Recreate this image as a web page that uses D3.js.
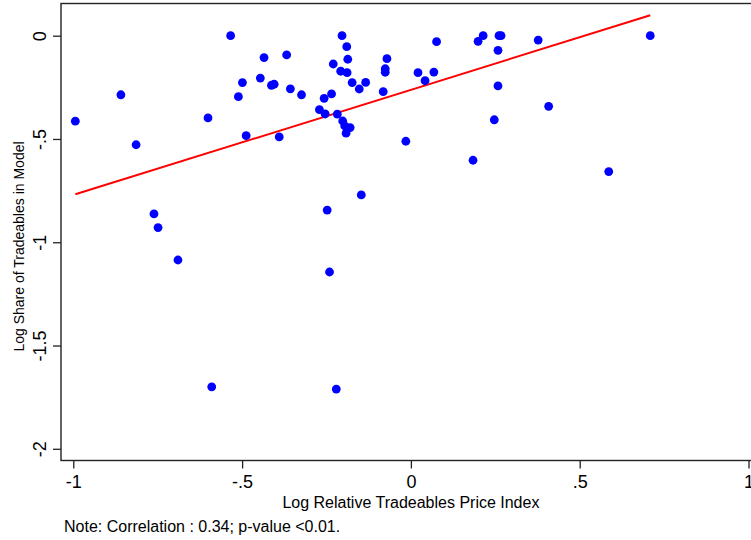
<!DOCTYPE html>
<html>
<head>
    <meta charset="utf-8">
    <style>
        body { margin: 0; background: #fff; }
        svg { display: block; font-family: "Liberation Sans", Arial, Helvetica, sans-serif; }
        .axis path.domain { display: none; }
        .axis line { stroke: #222; stroke-width: 1.3px; }
        .axis text { font-size: 18px; fill: #000; }
        circle.dot { fill: #0000ff; }
        line.fit { stroke: #ff0000; stroke-width: 2px; }
        rect.frame { fill: none; stroke: #222; stroke-width: 1.4px; }
    </style>
</head>
<body>
<div id="chart"></div>
<script src="https://cdn.jsdelivr.net/npm/d3@7/dist/d3.min.js"></script>
<script>

    // log relative tradeables price index (x) and log share of tradeables in model (y)
    var priceIndex = [
        -0.994, -0.859, -0.814, -0.761, -0.749, -0.690, -0.601, -0.590, -0.534, -0.511,
        -0.499, -0.488, -0.446, -0.435, -0.413, -0.405, -0.390, -0.368, -0.357, -0.324,
        -0.271, -0.257, -0.254, -0.248, -0.241, -0.235, -0.230, -0.221, -0.218, -0.204,
        -0.190, -0.187, -0.208, -0.189, -0.174, -0.153, -0.134, -0.202, -0.196, -0.180,
        -0.192, -0.147, -0.071, -0.076, -0.076, -0.082, -0.015, 0.021, 0.042, 0.068,
        0.076, 0.199, 0.214, 0.261, 0.267, 0.258, 0.258, 0.247, 0.184, 0.377,
        0.408, 0.586, 0.709
    ];
    var tradeShare = [
        -0.414, -0.286, -0.528, -0.863, -0.929, -1.086, -0.398, -1.700, 0.000, -0.295,
        -0.227, -0.484, -0.205, -0.106, -0.240, -0.235, -0.490, -0.093, -0.257, -0.286,
        -0.358, -0.303, -0.379, -0.844, -1.144, -0.282, -0.137, -1.711, -0.380, 0.000,
        -0.053, -0.114, -0.172, -0.179, -0.227, -0.258, -0.226, -0.413, -0.437, -0.445,
        -0.472, -0.771, -0.111, -0.160, -0.177, -0.271, -0.511, -0.179, -0.218, -0.176,
        -0.029, -0.027, 0.000, 0.000, 0.000, -0.071, -0.243, -0.407, -0.603, -0.021,
        -0.342, -0.658, 0.000
    ];

    // fitted line
    var fitIntercept = -0.262;
    var fitSlope = 0.509;

    var xTicks = [-1, -0.5, 0, 0.5, 1];
    var xTickLabels = ["-1", "-.5", "0", ".5", "1"];
    var yTicks = [0, -0.5, -1, -1.5, -2];
    var yTickLabels = ["0", "-.5", "-1", "-1.5", "-2"];

    var xTitle = "Log Relative Tradeables Price Index";
    var yTitle = "Log Share of Tradeables in Model";
    var note = "Note: Correlation : 0.34; p-value <0.01.";

    var width = 751;
    var height = 540;

    var plot = {left: 61, top: 3.5, bottom: 460.5};

    var x = d3.scaleLinear().domain([-1, 1]).range([73.3, 748.5]);
    var y = d3.scaleLinear().domain([0, -2]).range([35.7, 448.8]);

    var svg = d3.select("#chart").append("svg")
        .attr("width", width)
        .attr("height", height);

    svg.append("rect")
        .attr("class", "frame")
        .attr("x", plot.left)
        .attr("y", plot.top)
        .attr("width", width + 10 - plot.left)
        .attr("height", plot.bottom - plot.top);

    var points = priceIndex.map(function (d, i) {
        return {x: d, y: tradeShare[i]};
    });

    var xMin = d3.min(priceIndex);
    var xMax = d3.max(priceIndex);

    svg.append("line")
        .attr("class", "fit")
        .attr("x1", x(xMin))
        .attr("y1", y(fitIntercept + fitSlope * xMin))
        .attr("x2", x(xMax))
        .attr("y2", y(fitIntercept + fitSlope * xMax));

    svg.append("g").selectAll("circle.dot")
        .data(points)
        .enter()
        .append("circle")
        .attr("class", "dot")
        .attr("r", 4.4)
        .attr("cx", function (d) {
            return x(d.x);
        })
        .attr("cy", function (d) {
            return y(d.y);
        });

    var xAxis = d3.axisBottom(x)
        .tickValues(xTicks)
        .tickFormat(function (d, i) {
            return xTickLabels[i];
        })
        .tickSize(8)
        .tickPadding(7);

    svg.append("g")
        .attr("class", "axis")
        .attr("transform", "translate(0," + plot.bottom + ")")
        .call(xAxis);

    var yAxis = d3.axisLeft(y)
        .tickValues(yTicks)
        .tickFormat(function (d, i) {
            return yTickLabels[i];
        })
        .tickSize(8);

    var gy = svg.append("g")
        .attr("class", "axis")
        .attr("transform", "translate(" + plot.left + ",0)")
        .call(yAxis);

    // Stata puts the y tick labels on their side
    gy.selectAll(".tick text")
        .attr("x", null)
        .attr("dy", null)
        .attr("text-anchor", "middle")
        .attr("transform", "translate(-15,0) rotate(-90)");

    svg.append("text")
        .attr("x", x(0))
        .attr("y", 507.5)
        .attr("text-anchor", "middle")
        .style("font-size", "16px")
        .text(xTitle);

    svg.append("text")
        .attr("transform", "translate(24,246.5) rotate(-90)")
        .attr("text-anchor", "middle")
        .style("font-size", "14px")
        .text(yTitle);

    svg.append("text")
        .attr("x", 64)
        .attr("y", 532)
        .style("font-size", "16px")
        .text(note);

</script>
</body>
</html>
